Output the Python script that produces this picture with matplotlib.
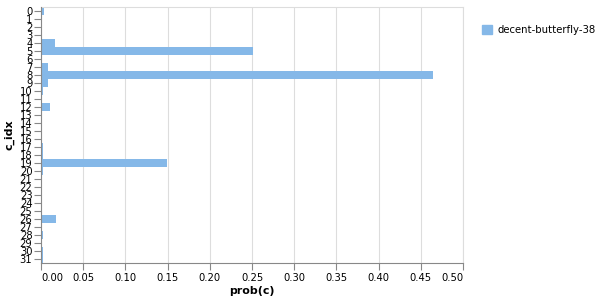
import numpy as np
import matplotlib
matplotlib.use("Agg")
import matplotlib.pyplot as plt
from matplotlib.patches import Patch

# c_idx categories and their probabilities
c_idx = list(range(32))
prob = [0.003, 0.001, 0.001, 0.001, 0.017, 0.251, 0.001, 0.008,
        0.4645, 0.008, 0.002, 0.001, 0.011, 0.001, 0.001, 0.001,
        0.001, 0.002, 0.002, 0.149, 0.002, 0.001, 0.001, 0.001,
        0.001, 0.001, 0.018, 0.001, 0.002, 0.001, 0.002, 0.002]
run_name = "decent-butterfly-38"
x_ticks = np.arange(0, 0.501, 0.05)

bar_color = "#85b8e8"
axis_gray = "#888888"
grid_gray = "#dddddd"

plt.rcParams["font.family"] = "DejaVu Sans"

fig = plt.figure(figsize=(6, 3), dpi=100)
ax = fig.add_axes([41 / 600, 1 - 263 / 300, 422 / 600, 256 / 300])

ax.barh(c_idx, prob, height=0.9, color=bar_color, zorder=2)

ax.set_xlim(0, 0.5)
ax.set_ylim(len(c_idx) - 0.5, -0.5)

ax.set_xticks(x_ticks)
ax.set_xticklabels([f"{t:.2f}" for t in x_ticks], fontsize=7.2)
ax.set_yticks(c_idx)
ax.set_yticklabels([str(c) for c in c_idx], fontsize=7.2)
labels = ax.get_xticklabels()
labels[0].set_ha("left")
labels[-1].set_ha("right")

ax.tick_params(axis="both", length=5, width=0.8, color=axis_gray, pad=2)
ax.tick_params(axis="y", pad=1.2)
ax.grid(axis="x", color=grid_gray, linewidth=0.8, zorder=0)
ax.set_axisbelow(True)

ax.spines["left"].set_color(axis_gray)
ax.spines["bottom"].set_color(axis_gray)
ax.spines["top"].set_color(grid_gray)
ax.spines["right"].set_color(grid_gray)
for s in ax.spines.values():
    s.set_linewidth(0.8)
ax.spines["left"].set_zorder(3)

ax.set_xlabel("prob(c)", fontsize=7.9, fontweight="bold", labelpad=2.5)
ax.set_ylabel("c_idx", fontsize=7.9, fontweight="bold", labelpad=3.5)

fig.legend(handles=[Patch(color=bar_color, label=run_name)],
           loc="upper left", bbox_to_anchor=(473 / 600, 1 - 16 / 300),
           frameon=False, fontsize=7.3, handlelength=1.0, handleheight=1.0,
           handletextpad=0.5)

fig.savefig("out.png", dpi=100)
